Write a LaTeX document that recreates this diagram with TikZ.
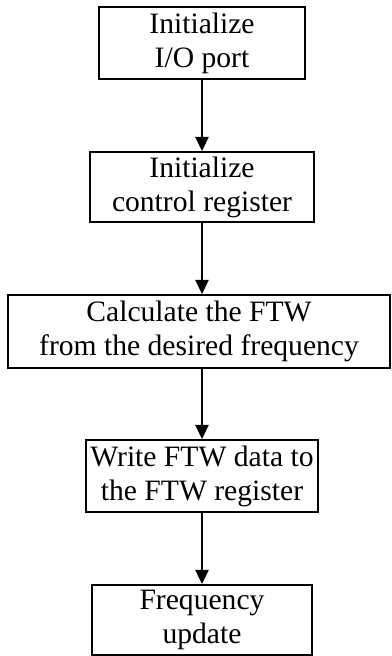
\documentclass[tikz,border=0pt]{standalone}
\usepackage{fontspec}
\setmainfont{Liberation Serif}
\usetikzlibrary{arrows.meta}

\begin{document}
\begin{tikzpicture}[x=1pt, y=1pt,
stepbox/.style={draw, line width=2pt, align=center, inner sep=0pt,
  font=\fontsize{29.6}{34}\selectfont},
flow/.style={line width=2.4pt, -{Triangle[length=14pt,width=13pt]}},
]
\useasboundingbox (0,0) rectangle (391,656);
\node[stepbox, minimum width=206, minimum height=72] (init) at (202,613)
  {Initialize\\I/O port};
\node[stepbox, minimum width=224, minimum height=70] (ctrl) at (202,469)
  {Initialize\\control register};
\node[stepbox, minimum width=382, minimum height=73] (calc) at (199,324.5)
  {Calculate the FTW\\from the desired frequency};
\node[stepbox, minimum width=232, minimum height=72] (write) at (202,180)
  {Write FTW data to\\the FTW register};
\node[stepbox, minimum width=220, minimum height=70] (update) at (202,36)
  {Frequency\\update};
\draw[flow] (init) -- (ctrl);
\draw[flow] (ctrl.south) -- (ctrl.south |- calc.north);
\draw[flow] (write.north |- calc.south) -- (write.north);
\draw[flow] (write) -- (update);
\end{tikzpicture}
\end{document}
